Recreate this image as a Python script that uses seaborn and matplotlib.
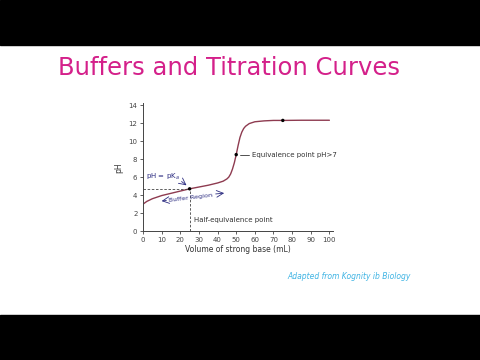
import matplotlib
matplotlib.use("Agg")
import matplotlib.pyplot as plt
import seaborn as sns
import pandas as pd
from matplotlib.patches import Rectangle

# Data
volume = [0, 2, 5, 10, 15, 20, 25, 30, 35, 40, 43, 45, 46, 47, 48, 49, 50,
          51, 52, 53, 54, 55, 57, 60, 65, 70, 75, 85, 100]
ph = [3.0, 3.3, 3.6, 3.95, 4.2, 4.45, 4.7, 4.9, 5.1, 5.35, 5.55, 5.8, 6.0,
      6.35, 6.9, 7.6, 8.5, 9.5, 10.4, 11.0, 11.4, 11.65, 11.95, 12.15, 12.25,
      12.3, 12.3, 12.32, 12.32]
key_x = [25, 50, 75]
key_y = [4.7, 8.5, 12.3]
x_ticks = [0, 10, 20, 30, 40, 50, 60, 70, 80, 90, 100]
y_ticks = [0, 2, 4, 6, 8, 10, 12, 14]

title = "Buffers and Titration Curves"
credit = "Adapted from Kognity ib Biology"

sns.set_theme(style="white")
plt.rcParams['font.family'] = ['DejaVu Sans']

fig = plt.figure(figsize=(4.8, 3.6), dpi=100)
fig.patch.set_facecolor("white")
fig.patches.append(Rectangle((0, 0.875), 1, 0.125, transform=fig.transFigure,
                             color="black", zorder=0))
fig.patches.append(Rectangle((0, 0), 1, 0.125, transform=fig.transFigure,
                             color="black", zorder=0))

ax = fig.add_axes([0.298, 0.358, 0.396, 0.355])
df = pd.DataFrame({"Volume": volume, "pH": ph})
sns.lineplot(data=df, x="Volume", y="pH", ax=ax, color="#8e3b50", linewidth=1.0)
sns.scatterplot(x=key_x, y=key_y, ax=ax, color="black", s=6, zorder=5,
                edgecolor="none")

ax.set_xlim(0, 102)
ax.set_ylim(0, 14.2)
ax.set_xticks(x_ticks)
ax.set_yticks(y_ticks)
ax.tick_params(axis="both", labelsize=5, length=2, width=0.6, pad=2,
               colors="#444444", bottom=True, left=True)
sns.despine(ax=ax)
for s in ["left", "bottom"]:
    ax.spines[s].set_color("#444444")
    ax.spines[s].set_linewidth(0.7)
ax.set_xlabel("Volume of strong base (mL)", fontsize=5.5, color="#333333", labelpad=2)
ax.set_ylabel("pH", fontsize=5.5, color="#333333", labelpad=4)

# dashed guides
ax.plot([0, key_x[0]], [key_y[0], key_y[0]], ls=(0, (3, 2)), color="#444444", lw=0.6)
ax.plot([key_x[0], key_x[0]], [0, key_y[0]], ls=(0, (3, 2)), color="#444444", lw=0.6)

ann = "#2b2b80"
ax.text(10.5, 6.0, "pH = pK$_a$", fontsize=5, color=ann, ha="center", va="center")
ax.annotate("", xy=(24.5, 4.9), xytext=(19.5, 5.7),
            arrowprops=dict(arrowstyle="->", color=ann, lw=0.6))
ax.text(25.5, 3.7, "Buffer Region", fontsize=4.6, color=ann, ha="center",
        va="center", rotation=7)
ax.annotate("", xy=(8.5, 3.3), xytext=(14, 3.45),
            arrowprops=dict(arrowstyle="->", color=ann, lw=0.6))
ax.annotate("", xy=(45, 4.25), xytext=(37.5, 4.1),
            arrowprops=dict(arrowstyle="->", color=ann, lw=0.6))
ax.plot([52, 57], [8.45, 8.45], color="#333333", lw=0.6)
ax.text(58.5, 8.45, "Equivalence point pH>7", fontsize=5, color="#333333",
        ha="left", va="center")
ax.text(27.5, 1.25, "Half-equivalence point", fontsize=5, color="#333333",
        ha="left", va="center")

fig.text(0.477, 0.81, title, fontsize=17.5, color="#d4208a", ha="center", va="center")
fig.text(0.727, 0.233, credit, fontsize=5.5, color="#3fb4e4", ha="center",
         va="center", style="italic")

fig.savefig("out.png", dpi=100)
